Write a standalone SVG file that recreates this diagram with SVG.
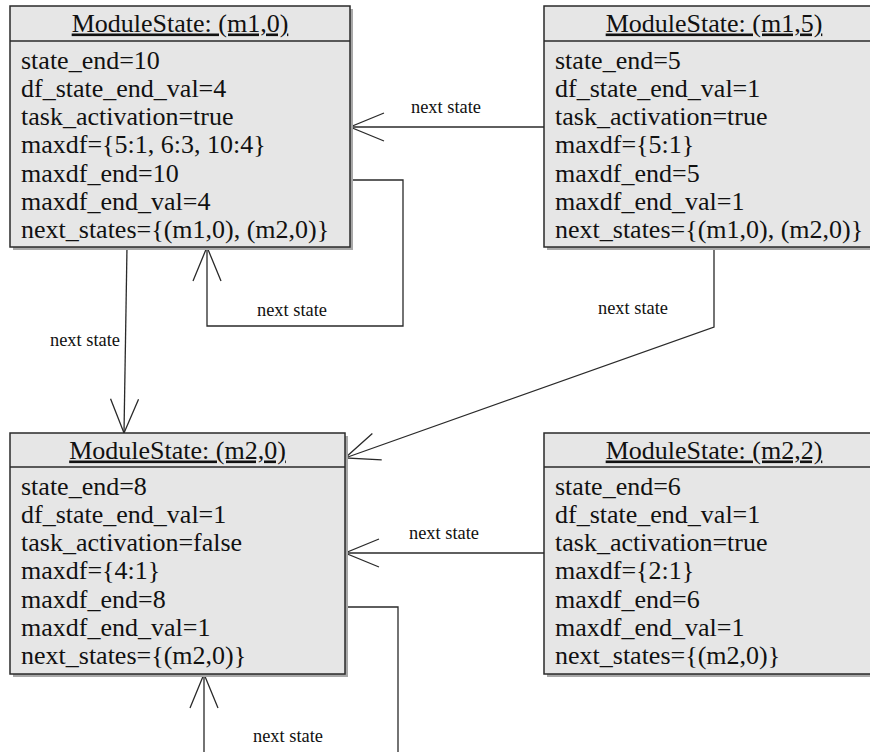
<svg xmlns="http://www.w3.org/2000/svg" width="870" height="752" viewBox="0 0 870 752">
<defs>
<style>
.shadow{fill:#a8a8a8;stroke:none}
.box{fill:#e6e6e6;stroke:#2a2a2a;stroke-width:1.5}
.sep{stroke:#2a2a2a;stroke-width:1.5}
.title{font-family:"Liberation Serif","Times New Roman",serif;font-size:26px;fill:#111;text-anchor:middle;text-decoration:underline}
.body{font-family:"Liberation Serif","Times New Roman",serif;font-size:26px;fill:#111}
.conn{fill:none;stroke:#2a2a2a;stroke-width:1.3}
.lbl{font-family:"Liberation Serif","Times New Roman",serif;font-size:18.4px;fill:#111}
</style>
<marker id="open" markerUnits="userSpaceOnUse" viewBox="-1 -1 36 30" refX="34" refY="14" markerWidth="36" markerHeight="30" orient="auto">
<path d="M0,0 L34,14 L0,28" fill="none" stroke="#2a2a2a" stroke-width="1.3"/>
</marker>
</defs>
<rect width="870" height="752" fill="#fff"/>

<g id="connectors">
<path class="conn" d="M544,127 H350" marker-end="url(#open)"/>
<path class="conn" d="M350,180 H403 V326 H207 V247" marker-end="url(#open)"/>
<path class="conn" d="M127,247 L124,433" marker-end="url(#open)"/>
<path class="conn" d="M714,247 V327 L345,458" marker-end="url(#open)"/>
<path class="conn" d="M544,553 H345" marker-end="url(#open)"/>
<path class="conn" d="M345,607 H398 V770 H204 V674" marker-end="url(#open)"/>
<text class="lbl" x="411" y="113">next state</text>
<text class="lbl" x="257" y="316">next state</text>
<text class="lbl" x="50" y="346">next state</text>
<text class="lbl" x="598" y="314">next state</text>
<text class="lbl" x="409" y="539">next state</text>
<text class="lbl" x="253" y="742">next state</text>
</g>

<g id="m1_0">
<rect class="shadow" x="13" y="9" width="340" height="241"/>
<rect class="box" x="10" y="6" width="340" height="241"/>
<line class="sep" x1="10" y1="41" x2="350" y2="41"/>
<text class="title" x="180" y="31.5">ModuleState: (m1,0)</text>
<text class="body" x="21" y="68.5">state_end=10</text>
<text class="body" x="21" y="96.8">df_state_end_val=4</text>
<text class="body" x="21" y="125.1">task_activation=true</text>
<text class="body" x="21" y="153.4">maxdf={5:1, 6:3, 10:4}</text>
<text class="body" x="21" y="181.7">maxdf_end=10</text>
<text class="body" x="21" y="210">maxdf_end_val=4</text>
<text class="body" x="21" y="238.3">next_states={(m1,0), (m2,0)}</text>
</g>

<g id="m1_5">
<rect class="shadow" x="547" y="9" width="340" height="241"/>
<rect class="box" x="544" y="6" width="340" height="241"/>
<line class="sep" x1="544" y1="41" x2="884" y2="41"/>
<text class="title" x="714" y="31.5">ModuleState: (m1,5)</text>
<text class="body" x="555" y="68.5">state_end=5</text>
<text class="body" x="555" y="96.8">df_state_end_val=1</text>
<text class="body" x="555" y="125.1">task_activation=true</text>
<text class="body" x="555" y="153.4">maxdf={5:1}</text>
<text class="body" x="555" y="181.7">maxdf_end=5</text>
<text class="body" x="555" y="210">maxdf_end_val=1</text>
<text class="body" x="555" y="238.3">next_states={(m1,0), (m2,0)}</text>
</g>

<g id="m2_0">
<rect class="shadow" x="13" y="436" width="335" height="241"/>
<rect class="box" x="10" y="433" width="335" height="241"/>
<line class="sep" x1="10" y1="467" x2="345" y2="467"/>
<text class="title" x="177.5" y="458.5">ModuleState: (m2,0)</text>
<text class="body" x="21" y="494.5">state_end=8</text>
<text class="body" x="21" y="522.8">df_state_end_val=1</text>
<text class="body" x="21" y="551.1">task_activation=false</text>
<text class="body" x="21" y="579.4">maxdf={4:1}</text>
<text class="body" x="21" y="607.7">maxdf_end=8</text>
<text class="body" x="21" y="636">maxdf_end_val=1</text>
<text class="body" x="21" y="664.3">next_states={(m2,0)}</text>
</g>

<g id="m2_2">
<rect class="shadow" x="547" y="436" width="340" height="241"/>
<rect class="box" x="544" y="433" width="340" height="241"/>
<line class="sep" x1="544" y1="467" x2="884" y2="467"/>
<text class="title" x="714" y="458.5">ModuleState: (m2,2)</text>
<text class="body" x="555" y="494.5">state_end=6</text>
<text class="body" x="555" y="522.8">df_state_end_val=1</text>
<text class="body" x="555" y="551.1">task_activation=true</text>
<text class="body" x="555" y="579.4">maxdf={2:1}</text>
<text class="body" x="555" y="607.7">maxdf_end=6</text>
<text class="body" x="555" y="636">maxdf_end_val=1</text>
<text class="body" x="555" y="664.3">next_states={(m2,0)}</text>
</g>
</svg>
